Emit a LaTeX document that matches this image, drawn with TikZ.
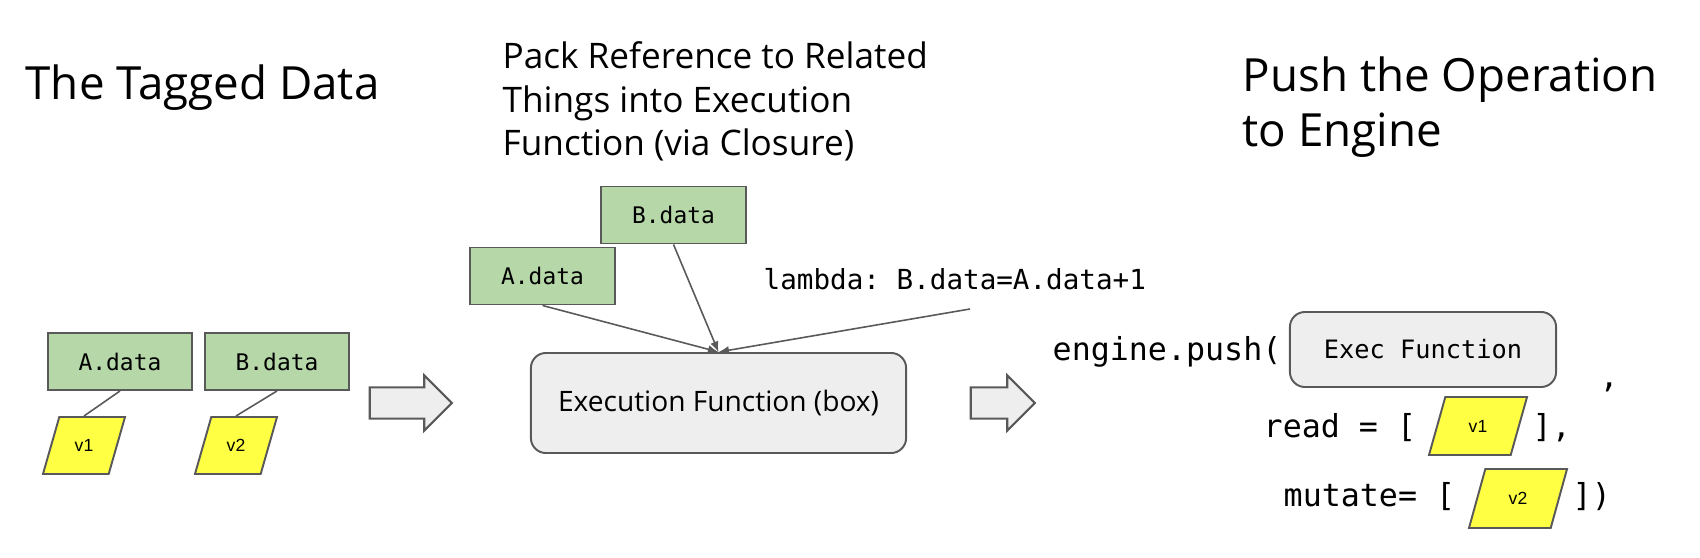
\documentclass[tikz,border=0pt]{standalone}
\usepackage{fontspec}
\setmainfont{Open Sans}
\setmonofont{DejaVu Sans Mono}
\newfontfamily\valfont{Liberation Sans}
\usetikzlibrary{arrows.meta,positioning,shapes.geometric,shapes.arrows}
\definecolor{edge}{HTML}{595959}
\definecolor{databg}{HTML}{B6D7A8}
\definecolor{valbg}{HTML}{FFFF44}
\definecolor{fnbg}{HTML}{EEEEEE}

\begin{document}
\begin{tikzpicture}[x=0.01cm,y=-0.01cm,
  datbox/.style={draw=edge,fill=databg,line width=0.55pt,minimum width=1.44cm,minimum height=0.57cm,inner sep=0pt,font=\ttfamily\fontsize{6.5}{8}\selectfont},
  valbox/.style={trapezium,trapezium left angle=74,trapezium right angle=106,trapezium stretches body,draw=edge,fill=valbg,line width=0.55pt,inner xsep=0pt,inner ysep=6.3pt,text height=3.6pt,text depth=0pt,minimum height=0.57cm,font=\valfont\fontsize{5}{6}\selectfont},
  fnbox/.style={draw=edge,fill=fnbg,line width=0.55pt,rounded corners=0.15cm},
  bigarrow/.style={single arrow,draw=edge,fill=fnbg,line width=0.6pt,inner xsep=0pt,inner ysep=0.145cm,single arrow head extend=0.12cm,minimum height=#1},
  link/.style={draw=edge,line width=0.45pt},
  feed/.style={link,-{Latex[length=3pt,width=2.4pt]}},
  code/.style={font=\ttfamily\fontsize{9}{11}\selectfont,inner sep=0pt,anchor=base west},
  title/.style={font=\fontsize{13}{15.9}\selectfont,align=left,inner sep=0pt,anchor=base west}]
  \useasboundingbox (0,0) rectangle (1700,558);

  \node[title] (ttag) at (25,100) {The Tagged Data};
  \node[title,font=\fontsize{10}{12.4}\selectfont] (tpack) at (502,156) {Pack Reference to Related\\Things into Execution\\Function (via Closure)};
  \node[title] (tpush) at (1242,147) {Push the Operation\\to Engine};

  \foreach \nm/\x/\vx/\lab/\v in {a/120/84/A/1,b/277/236/B/2}{
    \node[datbox] (t\nm) at (\x,361.5) {\lab.data};
    \node[valbox,minimum width=0.82cm] (v\nm) at (\vx,445.5) {v\v};
    \draw[link] (t\nm.south) -- (v\nm.north);
  }
  \node[bigarrow=0.82cm] (arr1) at (403,403) {};

  \node[datbox] (mb) at (673.5,215) {B.data};
  \node[datbox] (ma) at (542.5,276) {A.data};
  \node[fnbox,minimum width=3.75cm,minimum height=1cm,font=\fontsize{8}{10}\selectfont] (exec) at (718.5,403) {Execution Function (box)};
  \node[code,font=\ttfamily\fontsize{7.85}{9}\selectfont] (lam) at (763,290) {lambda: B.data=A.data+1};
  \coordinate (lamend) at (970,309);
  \draw[feed] (ma.south) -- (exec.north);
  \draw[feed] (mb.south) -- (exec.north);
  \draw[feed] (lamend) -- (exec.north);
  \node[bigarrow=0.64cm] (arr2) at (995,403) {};

  \node[code] (push) at (1052,361) {engine.push(};
  \node[fnbox,minimum height=0.75cm,minimum width=2.66cm,font=\ttfamily\fontsize{7.2}{9}\selectfont] (efn) at (1423,349.5) {Exec Function};
  \node[code] (comma) at (1599,388) {,};
  \node[code] (rd) at (1263,438) {read = [};
  \node[valbox,minimum width=0.98cm,minimum height=0.58cm] (rv) at (1478,426) {v1};
  \node[code] (rdend) at (1532,438) {],};
  \node[code] (mu) at (1283,506) {mutate= [};
  \node[valbox,minimum width=0.98cm,minimum height=0.59cm] (mv) at (1518,498.5) {v2};
  \node[code] (muend) at (1572,506) {])};
\end{tikzpicture}
\end{document}
